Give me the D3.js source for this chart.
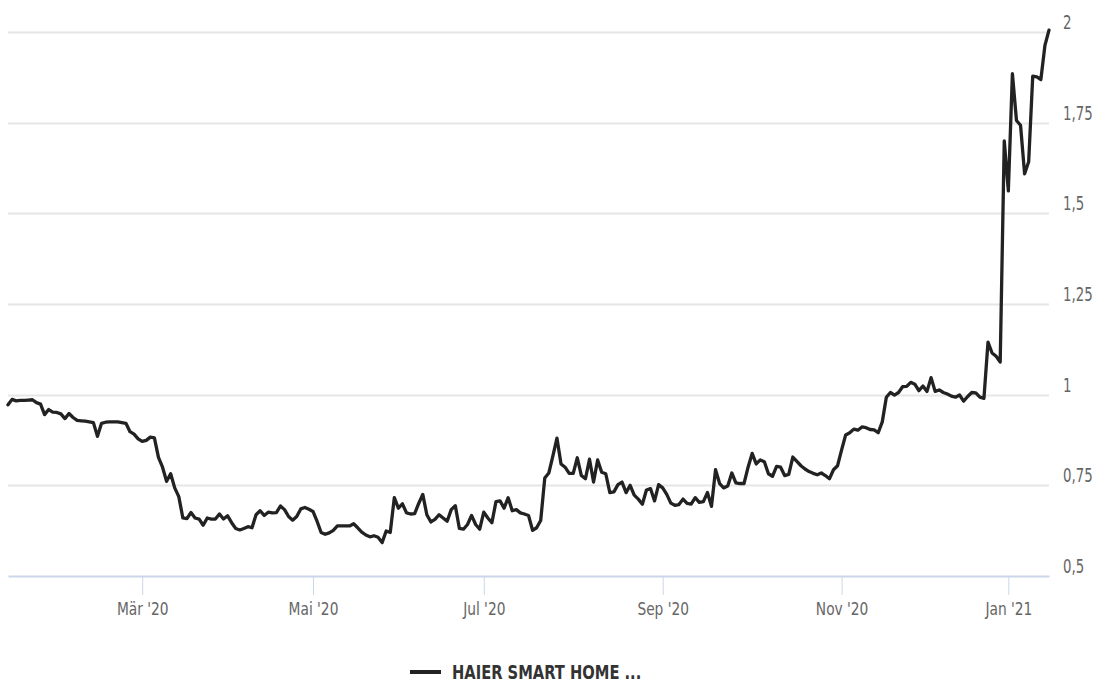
<!DOCTYPE html>
<html>
<head>
<meta charset="utf-8">
<script src="https://cdn.jsdelivr.net/npm/d3@7"></script>
<style>
  html, body { margin: 0; padding: 0; background: #fff; }
  svg { display: block; }
  .lbl { font-family: "DejaVu Sans Condensed", "Roboto", sans-serif; }
</style>
</head>
<body>
<svg id="chart" width="1109" height="682"></svg>
<script>
// ---- data (trading-day index -> closing value) ----
const seriesName = "HAIER SMART HOME ...";
const values = [
0.972,0.987,0.983,0.984,0.984,0.985,0.986,0.978,0.974,0.945,
0.959,0.952,0.951,0.947,0.934,0.948,0.937,0.929,0.928,0.927,
0.925,0.923,0.885,0.921,0.924,0.925,0.925,0.925,0.923,0.921,
0.898,0.891,0.878,0.871,0.874,0.883,0.881,0.827,0.800,0.761,
0.782,0.743,0.719,0.660,0.658,0.675,0.660,0.657,0.640,0.660,
0.657,0.657,0.671,0.657,0.666,0.647,0.631,0.627,0.631,0.636,
0.633,0.669,0.680,0.667,0.676,0.674,0.675,0.693,0.683,0.664,
0.654,0.664,0.685,0.689,0.684,0.678,0.651,0.620,0.615,0.619,
0.626,0.638,0.638,0.638,0.638,0.644,0.633,0.621,0.613,0.608,
0.611,0.607,0.592,0.624,0.620,0.716,0.687,0.699,0.674,0.671,
0.672,0.700,0.725,0.669,0.649,0.656,0.669,0.660,0.651,0.683,
0.694,0.631,0.629,0.642,0.667,0.642,0.629,0.676,0.660,0.647,
0.705,0.707,0.687,0.716,0.680,0.683,0.674,0.671,0.667,0.626,
0.633,0.653,0.770,0.784,0.831,0.880,0.809,0.800,0.783,0.783,
0.826,0.777,0.768,0.822,0.759,0.820,0.786,0.782,0.730,0.732,
0.752,0.759,0.730,0.750,0.723,0.712,0.698,0.737,0.741,0.707,
0.752,0.743,0.725,0.701,0.695,0.697,0.712,0.700,0.698,0.716,
0.703,0.705,0.730,0.692,0.793,0.755,0.743,0.748,0.784,0.757,
0.755,0.755,0.800,0.838,0.809,0.820,0.815,0.782,0.775,0.802,
0.800,0.777,0.780,0.828,0.816,0.804,0.795,0.788,0.783,0.779,
0.784,0.777,0.768,0.793,0.804,0.848,0.889,0.895,0.905,0.902,
0.911,0.909,0.904,0.903,0.895,0.925,0.993,1.006,0.999,1.006,
1.022,1.023,1.034,1.029,1.011,1.024,1.009,1.047,1.009,1.013,
1.006,1.002,0.996,0.993,0.999,0.982,0.995,1.006,1.005,0.993,
0.990,1.145,1.115,1.106,1.090,1.700,1.562,1.885,1.756,1.743,
1.609,1.642,1.878,1.876,1.869,1.963,2.005
];
// first trading day of each labelled month (index into values)
const xTickIndex  = [33, 75, 117, 161, 205, 246];
const xTickLabels = ["Mär '20", "Mai '20", "Jul '20", "Sep '20", "Nov '20", "Jan '21"];
const yTicks = [0.5, 0.75, 1, 1.25, 1.5, 1.75, 2];

// ---- layout ----
const svg = d3.select("#chart");
const plotL = 8, plotR = 1049, plotT = 32, plotB = 576;

const x = d3.scaleLinear().domain([0, values.length - 1]).range([plotL, plotR]);
const y = d3.scaleLinear().domain([0.5, 2]).range([plotB, plotT]);

const deFmt = d3.formatLocale({decimal: ",", thousands: ".", grouping: [3], currency: ["", "€"]}).format("~g");

// squeeze text horizontally to mimic a condensed face
function condense(sel, k) {
  sel.each(function () {
    const w = this.getComputedTextLength();
    this.setAttribute("textLength", (w * k).toFixed(1));
    this.setAttribute("lengthAdjust", "spacingAndGlyphs");
  });
}

// gridlines
svg.append("g")
  .selectAll("line")
  .data(yTicks.filter(d => d !== 0.5))
  .join("line")
  .attr("x1", plotL).attr("x2", plotR)
  .attr("y1", d => Math.round(y(d)) + 0.5).attr("y2", d => Math.round(y(d)) + 0.5)
  .attr("stroke", "#e6e6e6").attr("stroke-width", 2);

// y labels (right)
svg.append("g")
  .selectAll("text")
  .data(yTicks)
  .join("text")
  .attr("class", "lbl")
  .attr("x", 1063)
  .attr("y", d => y(d) - 3)
  .attr("fill", "#666")
  .attr("font-size", 19)
  .text(d => deFmt(d))
  .call(condense, 0.78);

// x axis
const xAxis = d3.axisBottom(x)
  .tickValues(xTickIndex)
  .tickFormat((d, i) => xTickLabels[i])
  .tickSize(19)
  .tickPadding(7)
  .tickSizeOuter(0);

const gx = svg.append("g").attr("transform", `translate(0,${plotB})`).call(xAxis);
gx.select(".domain").attr("stroke", "#ccd6eb").attr("stroke-width", 2);
gx.selectAll(".tick line").attr("stroke", "#ccd6eb").attr("stroke-width", 1);
gx.selectAll(".tick text")
  .attr("class", "lbl")
  .attr("fill", "#666")
  .attr("font-size", 18)
  .call(condense, 0.85);

// line
const line = d3.line()
  .x((d, i) => x(i))
  .y(d => y(d));

svg.append("path")
  .datum(values)
  .attr("d", line)
  .attr("fill", "none")
  .attr("stroke", "#222")
  .attr("stroke-width", 3.3)
  .attr("stroke-linejoin", "round")
  .attr("stroke-linecap", "round");

// legend
const lg = svg.append("g").attr("transform", "translate(410,672)");
lg.append("line")
  .attr("x1", 0).attr("x2", 31).attr("y1", 0).attr("y2", 0)
  .attr("stroke", "#222").attr("stroke-width", 4);
lg.append("text")
  .attr("class", "lbl")
  .attr("x", 42).attr("y", 7)
  .attr("fill", "#333")
  .attr("font-size", 19)
  .attr("font-weight", "bold")
  .text(seriesName)
  .call(condense, 0.86);
</script>
</body>
</html>
